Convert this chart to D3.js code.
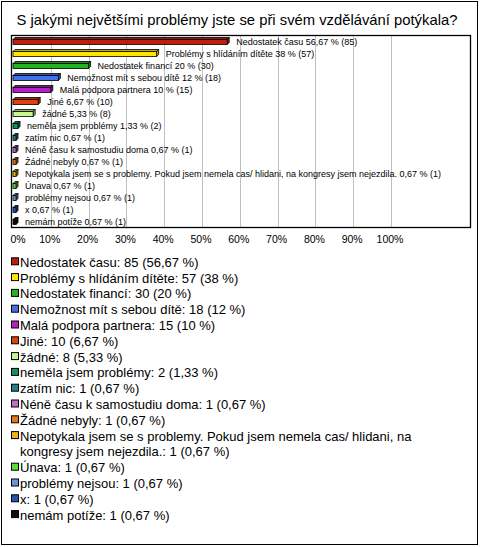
<!DOCTYPE html>
<html><head><meta charset="utf-8">
<script src="https://cdn.jsdelivr.net/npm/d3@7"></script>
<style>body{margin:0;background:#fff}svg{display:block;font-family:Arial,"Liberation Sans",sans-serif}</style>
</head><body>
<script>
const title = "S jakými největšími problémy jste se při svém vzdělávání potýkala?";
const categories = ["Nedostatek času","Problémy s hlídáním dítěte","Nedostatek financí","Nemožnost mít s sebou dítě","Malá podpora partnera","Jiné","žádné","neměla jsem problémy","zatím nic","Néně času k samostudiu doma","Žádné nebyly","Nepotykala jsem se s problemy. Pokud jsem nemela cas/ hlidani, na kongresy jsem nejezdila.","Únava","problémy nejsou","x","nemám potíže"];
const counts = [85,57,30,18,15,10,8,2,1,1,1,1,1,1,1,1];
const percents = [56.67,38,20,12,10,6.67,5.33,1.33,0.67,0.67,0.67,0.67,0.67,0.67,0.67,0.67];
const colors = ["#BE1E0E","#FFE600","#22B422","#4470E8","#B41EC8","#E0400C","#C8F58C","#16905A","#2A7F8F","#BF6FC3","#E6781A","#ECB416","#55E03A","#6A96D8","#2A52B4","#101010"];
const tickValues = [0,10,20,30,40,50,60,70,80,90,100];

const W=480,H=547;
const svg=d3.select("body").append("svg").attr("width",W).attr("height",H);
svg.append("rect").attr("x",1.5).attr("y",1.5).attr("width",476).attr("height",543).attr("fill","#fff").attr("stroke","#000").attr("stroke-width",1);
svg.append("text").attr("x",237).attr("y",25).attr("text-anchor","middle").attr("font-size",14.8).text(title);

const fx0=11.5,fx1=470.5,fy0=35.5,fy1=227.5;
const x=d3.scaleLinear().domain([0,100]).range([13,391]);
const y=d3.scaleBand().domain(categories).range([35,227]);
const fmt=v=>String(v).replace(".",",");

svg.append("g").selectAll("line").data(tickValues.slice(1)).join("line")
  .attr("x1",d=>Math.round(x(d))+0.5).attr("x2",d=>Math.round(x(d))+0.5)
  .attr("y1",fy0).attr("y2",fy1).attr("stroke","#c0c0c0");
svg.append("rect").attr("x",fx0).attr("y",fy0).attr("width",fx1-fx0).attr("height",fy1-fy0).attr("fill","none").attr("stroke","#000").attr("stroke-width",1.3);

svg.append("g").selectAll("text").data(tickValues).join("text")
  .attr("x",d=>d===0?18:x(d)-1).attr("y",243).attr("text-anchor","middle").attr("font-size",10.5).text(d=>d+"%");

const dep=2;
const bars=svg.append("g");
categories.forEach((c,i)=>{
  const cy=y(c)+y.bandwidth()/2+0.5;
  const x0=x(0), x1=Math.max(x(percents[i]),x0+3);
  const top=cy-2, bot=cy+3;
  const dark=d3.color(colors[i]).darker(0.8).formatHex();
  const g=bars.append("g");
  g.append("path").attr("d",`M${x0},${top} L${x0+dep},${top-dep} L${x1+dep},${top-dep} L${x1},${top} Z`).attr("fill",dark).attr("stroke","#000").attr("stroke-width",0.8);
  g.append("path").attr("d",`M${x1},${top} L${x1+dep},${top-dep} L${x1+dep},${bot-dep} L${x1},${bot} Z`).attr("fill",dark).attr("stroke","#000").attr("stroke-width",0.8);
  g.append("rect").attr("x",x0).attr("y",top).attr("width",x1-x0).attr("height",bot-top).attr("fill",colors[i]).attr("stroke","#000").attr("stroke-width",0.8);
  g.append("text").attr("x",x1+dep+7).attr("y",cy+3).attr("font-size",9).attr("fill","#000")
    .text(`${c} ${fmt(percents[i])} % (${counts[i]})`);
});

// legend
const leg=svg.append("g");
let ly=262.3; const step=15.8;
categories.forEach((c,i)=>{
  leg.append("rect").attr("x",11.5).attr("y",ly-4.5).attr("width",7).attr("height",7).attr("fill",colors[i]).attr("stroke","#000").attr("stroke-width",1);
  const label=`${c}: ${counts[i]} (${fmt(percents[i])} %)`;
  let lines=[label];
  if(c.startsWith("Nepotykala")) lines=["Nepotykala jsem se s problemy. Pokud jsem nemela cas/ hlidani, na","kongresy jsem nejezdila.: 1 (0,67 %)"];
  lines.forEach((t,k)=>{
    leg.append("text").attr("x",20).attr("y",ly+4.5+k*step).attr("font-size",13).text(t);
  });
  ly+=step*lines.length;
});
</script>
</body></html>
